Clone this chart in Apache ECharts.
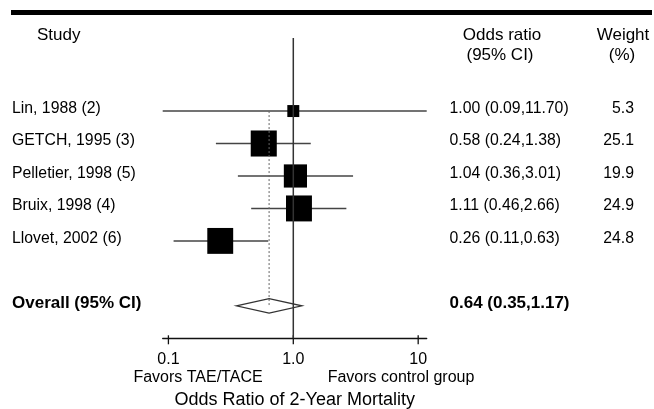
<!DOCTYPE html>
<html><head><meta charset="utf-8">
<script src="https://cdn.jsdelivr.net/npm/echarts@6/dist/echarts.min.js"></script>
<style>html,body{margin:0;padding:0;background:#fff}#c{width:654px;height:409px}</style>
</head><body><div id="c"></div>
<script>
// ---- data ----
const studies = ['Lin, 1988 (2)', 'GETCH, 1995 (3)', 'Pelletier, 1998 (5)', 'Bruix, 1998 (4)', 'Llovet, 2002 (6)'];
const oddsRatio = [1.00, 0.58, 1.04, 1.11, 0.26];
const ciLow = [0.09, 0.24, 0.36, 0.46, 0.11];
const ciHigh = [11.70, 1.38, 3.01, 2.66, 0.63];
const weights = [5.3, 25.1, 19.9, 24.9, 24.8];
const overallLabel = 'Overall (95% CI)';
const overallOR = 0.64;
const overallLow = 0.35;
const overallHigh = 1.17;
const tickValues = [0.1, 1, 10];
const tickLabels = ['0.1', '1.0', '10'];
const axisMin = 0.09, axisMax = 11.70;
const nullValue = 1;

// ---- layout ----
const FONT = '"Liberation Sans", Arial, Helvetica, sans-serif';
const overallRow = studies.length + 1;
const axisRow = overallRow + 1;
const yMin = -2.25;
const TXT = '#000';
const textDy = -2.5;

const chart = echarts.init(document.getElementById('c'), null, {renderer: 'canvas'});

const studyData = studies.map((s, i) => [oddsRatio[i], ciLow[i], ciHigh[i], weights[i], i]);
const fmt2 = v => v.toFixed(2);
const textRows = studies.map((s, i) => ({
  name: s, row: i, or: fmt2(oddsRatio[i]) + ' (' + fmt2(ciLow[i]) + ',' + fmt2(ciHigh[i]) + ')',
  w: weights[i].toFixed(1), bold: false
}));
textRows.push({name: overallLabel, row: overallRow,
  or: fmt2(overallOR) + ' (' + fmt2(overallLow) + ',' + fmt2(overallHigh) + ')', w: '', bold: true});

const option = {
  animation: false,
  backgroundColor: '#fff',
  grid: {left: 162.7, top: 38, width: 264, height: 300.3, outerBoundsMode: 'none', containLabel: false},
  xAxis: {
    type: 'log', logBase: 10, min: axisMin, max: axisMax,
    axisLine: {show: true, onZero: false, lineStyle: {color: '#111', width: 1.3}},
    axisTick: {show: false}, axisLabel: {show: false}, splitLine: {show: false},
    name: 'Odds Ratio of 2-Year Mortality', nameLocation: 'middle', nameGap: 53,
    nameTextStyle: {fontFamily: FONT, fontSize: 18, color: TXT}
  },
  yAxis: {type: 'value', inverse: true, min: yMin, max: axisRow, show: false},
  graphic: [
    {type: 'rect', shape: {x: 11, y: 10, width: 641, height: 5}, style: {fill: '#000'}},
    {type: 'text', x: 37, y: 35, style: {text: 'Study', font: '17px ' + FONT, fill: TXT, align: 'left', verticalAlign: 'middle'}},
    {type: 'text', x: 502, y: 35, style: {text: 'Odds ratio', font: '17px ' + FONT, fill: TXT, align: 'center', verticalAlign: 'middle'}},
    {type: 'text', x: 500, y: 55, style: {text: '(95% CI)', font: '17px ' + FONT, fill: TXT, align: 'center', verticalAlign: 'middle'}},
    {type: 'text', x: 623, y: 35, style: {text: 'Weight', font: '17px ' + FONT, fill: TXT, align: 'center', verticalAlign: 'middle'}},
    {type: 'text', x: 622, y: 55, style: {text: '(%)', font: '17px ' + FONT, fill: TXT, align: 'center', verticalAlign: 'middle'}},
    {type: 'text', x: 198, y: 378, style: {text: 'Favors TAE/TACE', font: '16px ' + FONT, fill: TXT, align: 'center', verticalAlign: 'middle'}},
    {type: 'text', x: 401, y: 378, style: {text: 'Favors control group', font: '16px ' + FONT, fill: TXT, align: 'center', verticalAlign: 'middle'}}
  ],
  series: [
    { // overall diamond
      type: 'custom', data: [[overallOR, overallLow, overallHigh, overallRow]],
      encode: {x: [0, 1, 2], y: 3},
      renderItem: (params, api) => {
        const r = api.value(3);
        const c = api.coord([api.value(0), r]);
        const l = api.coord([api.value(1), r]);
        const h = api.coord([api.value(2), r]);
        const hh = 7.2;
        return {type: 'polygon', shape: {points: [[l[0], c[1]], [c[0], c[1] - hh], [h[0], c[1]], [c[0], c[1] + hh]]},
          style: {fill: 'none', stroke: '#333', lineWidth: 1.3}};
      }
    },
    { // line of no effect
      type: 'line', data: [[nullValue, yMin], [nullValue, axisRow]], symbol: 'none',
      lineStyle: {color: '#333', width: 1.5}
    },
    { // overall estimate reference (dashed)
      type: 'line', data: [[overallOR, 0], [overallOR, overallRow]], symbol: 'none',
      lineStyle: {color: '#666', width: 1, type: [2, 2]}
    },
    { // CI lines
      type: 'custom', data: studyData, encode: {x: [0, 1, 2], y: 4},
      renderItem: (params, api) => {
        const r = api.value(4);
        const l = api.coord([api.value(1), r]);
        const h = api.coord([api.value(2), r]);
        return {type: 'line', shape: {x1: l[0], y1: l[1], x2: h[0], y2: h[1]}, style: {stroke: '#444', lineWidth: 1.5}};
      }
    },
    { // squares
      type: 'custom', data: studyData, encode: {x: [0, 1, 2], y: 4},
      renderItem: (params, api) => {
        const r = api.value(4);
        const c = api.coord([api.value(0), r]);
        const s = 5.2 * Math.sqrt(api.value(3));
        return {type: 'rect', shape: {x: c[0] - s / 2, y: c[1] - s / 2, width: s, height: s}, style: {fill: '#000'}};
      }
    },
    { // axis ticks and labels
      type: 'custom', data: tickValues.map((v, i) => [v, i]), encode: {x: 0},
      renderItem: (params, api) => {
        const i = api.value(1);
        const p = api.coord([api.value(0), axisRow]);
        return {type: 'group', children: [
          {type: 'line', shape: {x1: p[0], y1: p[1] - 3, x2: p[0], y2: p[1] + 6}, style: {stroke: '#111', lineWidth: 1.3}},
          {type: 'text', style: {x: p[0], y: p[1] + 21, text: tickLabels[i], font: '16px ' + FONT, fill: TXT, align: 'center', verticalAlign: 'middle'}}
        ]};
      }
    },
    { // table text
      type: 'custom', data: textRows.map((t, i) => [nullValue, t.row, i]), encode: {y: 1},
      renderItem: (params, api) => {
        const t = textRows[api.value(2)];
        const y = api.coord([nullValue, api.value(1)])[1] + textDy;
        const f = t.bold ? 'bold 17px ' + FONT : '15.8px ' + FONT;
        const kids = [
          {type: 'text', style: {x: 12, y: y, text: t.name, font: f, fill: TXT, align: 'left', verticalAlign: 'middle'}},
          {type: 'text', style: {x: 449.5, y: y, text: t.or, font: f, fill: TXT, align: 'left', verticalAlign: 'middle'}}
        ];
        if (t.w) kids.push({type: 'text', style: {x: 634, y: y, text: t.w, font: f, fill: TXT, align: 'right', verticalAlign: 'middle'}});
        return {type: 'group', children: kids};
      }
    }
  ]
};
chart.setOption(option);
</script>
</body></html>
